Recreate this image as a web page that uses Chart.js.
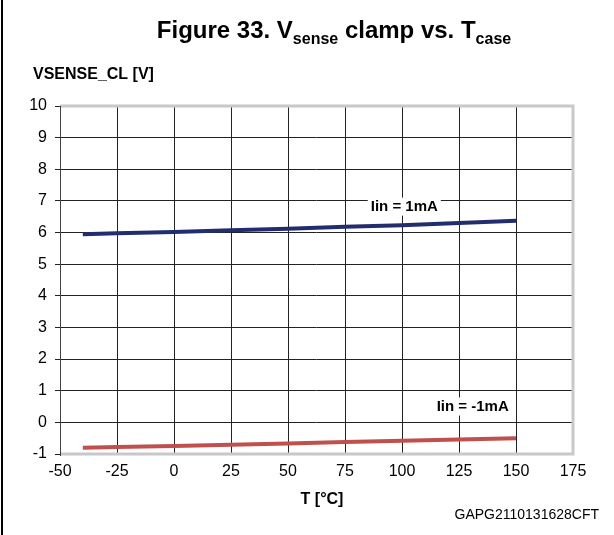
<!DOCTYPE html>
<html>
<head>
<meta charset="utf-8">
<script src="https://cdn.jsdelivr.net/npm/chart.js@4/dist/chart.umd.min.js"></script>
<style>
  body { margin: 0; background: #fff; }
  canvas { display: block; }
</style>
</head>
<body>
<canvas id="chart" width="614" height="535"></canvas>
<script>
// temperatures (°C) and clamp voltages
const temps = [-40, -25, 0, 25, 50, 75, 100, 125, 150];
const vPos = [5.95, 5.98, 6.02, 6.07, 6.12, 6.18, 6.23, 6.30, 6.37];   // Iin = 1mA
const vNeg = [-0.80, -0.78, -0.75, -0.71, -0.67, -0.62, -0.58, -0.54, -0.50]; // Iin = -1mA
const xTicks = [-50, -25, 0, 25, 50, 75, 100, 125, 150, 175];
const yTicks = [-1, 0, 1, 2, 3, 4, 5, 6, 7, 8, 9, 10];

const FONT = "'Liberation Sans', Arial, sans-serif";
Chart.defaults.font.family = FONT;
Chart.defaults.font.size = 15;
Chart.defaults.color = "#000";

function pts(vals) {
    return temps.map((t, i) => ({ x: t, y: vals[i] }));
}

// frame, title and in-plot labels
const decorations = {
    id: "decorations",
    afterDraw(chart) {
        const ctx = chart.ctx;
        const a = chart.chartArea;
        const xs = chart.scales.x, ys = chart.scales.y;
        ctx.save();

        // grey frame top/right/bottom
        ctx.strokeStyle = "#c8c8c8";
        ctx.lineWidth = 3;
        ctx.beginPath();
        ctx.moveTo(a.left, a.top);
        ctx.lineTo(a.right, a.top);
        ctx.lineTo(a.right, a.bottom);
        ctx.lineTo(a.left, a.bottom);
        ctx.stroke();
        // left axis
        ctx.strokeStyle = "#404040";
        ctx.lineWidth = 1;
        ctx.beginPath();
        ctx.moveTo(a.left + 0.5, a.top);
        ctx.lineTo(a.left + 0.5, a.bottom + 2);
        ctx.stroke();

        // page border on the left
        ctx.fillStyle = "#000";
        ctx.fillRect(1, 0, 2, chart.height);

        // title with subscripts
        const parts = [
            ["Figure 33. V", 24, 0],
            ["sense", 16, 6],
            [" clamp vs. T", 24, 0],
            ["case", 16, 6]
        ];
        let total = 0;
        parts.forEach(p => {
            ctx.font = "bold " + p[1] + "px " + FONT;
            total += ctx.measureText(p[0]).width;
        });
        let x = 334 - total / 2;
        ctx.textBaseline = "alphabetic";
        ctx.textAlign = "left";
        parts.forEach(p => {
            ctx.font = "bold " + p[1] + "px " + FONT;
            ctx.fillText(p[0], x, 38 + p[2]);
            x += ctx.measureText(p[0]).width;
        });

        // axis titles
        ctx.font = "bold 16px " + FONT;
        ctx.textBaseline = "middle";
        ctx.fillText("VSENSE_CL [V]", 33, 75);
        ctx.textAlign = "center";
        ctx.fillText("T [°C]", 322, 500);

        // figure code
        ctx.font = "14px " + FONT;
        ctx.textAlign = "right";
        ctx.fillText("GAPG2110131628CFT", 599, 515);

        // series labels with white background
        function label(text, t, v) {
            ctx.font = "bold 15px " + FONT;
            const w = ctx.measureText(text).width;
            const px = xs.getPixelForValue(t), py = ys.getPixelForValue(v);
            ctx.fillStyle = "#fff";
            ctx.fillRect(px - w / 2 - 3, py - 9, w + 6, 18);
            ctx.fillStyle = "#000";
            ctx.textAlign = "center";
            ctx.fillText(text, px, py);
        }
        label("Iin = 1mA", 101, 6.82);
        label("Iin = -1mA", 131, 0.5);

        ctx.restore();
    }
};

new Chart(document.getElementById("chart"), {
    type: "scatter",
    data: {
        datasets: [
            {
                label: "Iin = 1mA",
                data: pts(vPos),
                showLine: true,
                borderColor: "#222d6e",
                borderWidth: 4,
                pointRadius: 0,
                tension: 0
            },
            {
                label: "Iin = -1mA",
                data: pts(vNeg),
                showLine: true,
                borderColor: "#c0504d",
                borderWidth: 4,
                pointRadius: 0,
                tension: 0
            }
        ]
    },
    options: {
        responsive: false,
        animation: false,
        layout: { padding: { left: 0, top: 106, right: 41, bottom: 0 } },
        plugins: {
            legend: { display: false },
            tooltip: { enabled: false }
        },
        scales: {
            x: {
                type: "linear",
                min: -50,
                max: 175,
                afterBuildTicks: s => { s.ticks = xTicks.map(v => ({ value: v })); },
                afterFit: s => { s.height = 81; },
                ticks: { padding: 8, maxRotation: 0, font: { size: 16 } },
                grid: { color: "#222", lineWidth: 1, drawTicks: false },
                border: { display: false }
            },
            y: {
                min: -1,
                max: 10,
                afterBuildTicks: s => { s.ticks = yTicks.map(v => ({ value: v })); },
                afterFit: s => { s.width = 60; },
                ticks: { padding: 8, font: { size: 16 } },
                grid: { color: "#222", lineWidth: 1, tickLength: 5, tickColor: "#222" },
                border: { display: false }
            }
        }
    },
    plugins: [decorations]
});
</script>
</body>
</html>
